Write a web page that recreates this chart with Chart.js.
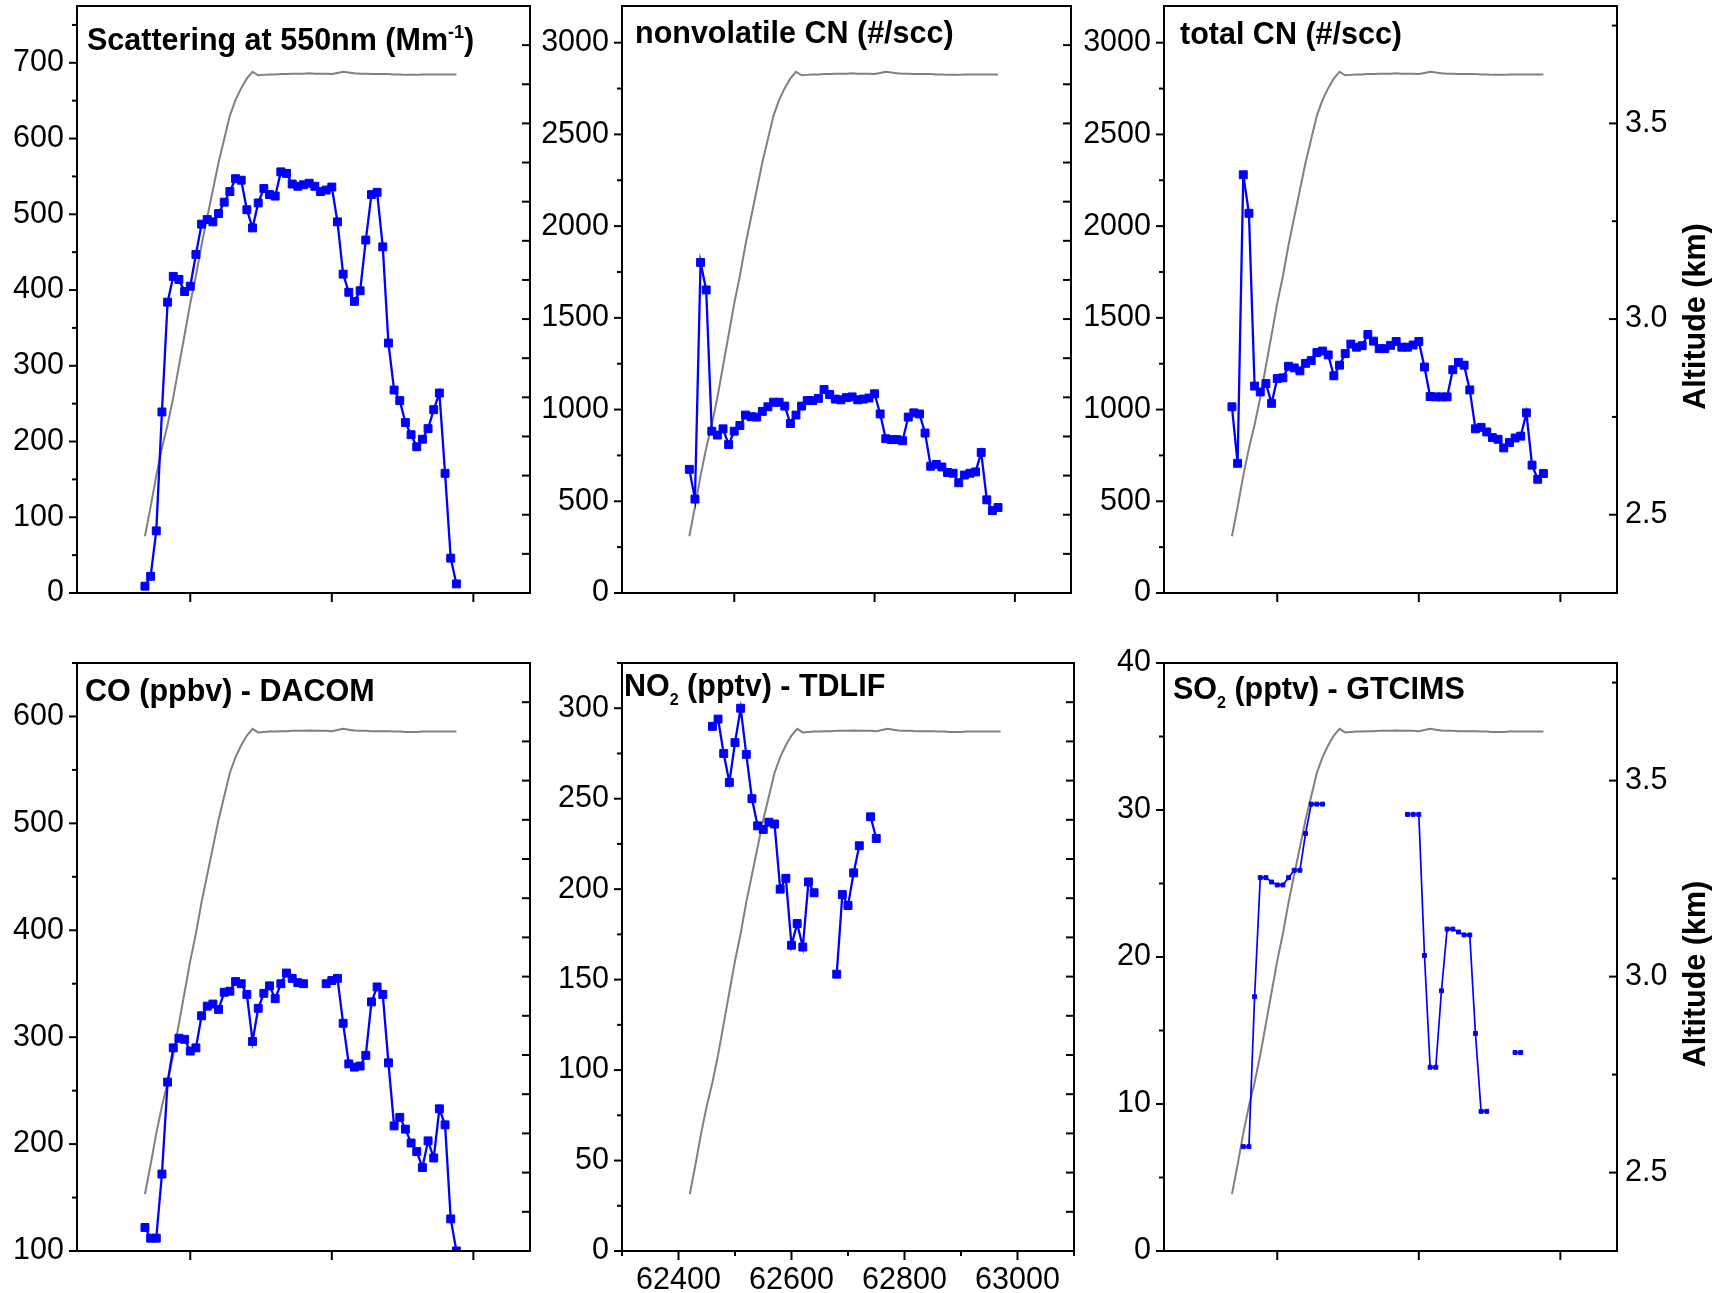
<!DOCTYPE html>
<html>
<head>
<meta charset="utf-8">
<script src="https://cdn.jsdelivr.net/npm/chart.js@4.4.1/dist/chart.umd.min.js"></script>
<style>
  body { margin: 0; background: #fff; width: 1727px; height: 1293px; overflow: hidden; position: relative; }
  canvas { position: absolute; }
</style>
</head>
<body>
<script>
// sample times (s), shared by all instruments
const sampleTime = [62420, 62430, 62440, 62450, 62460, 62470, 62480, 62490, 62500, 62510,
  62520, 62530, 62540, 62550, 62560, 62570, 62580, 62590, 62600, 62610,
  62620, 62630, 62640, 62650, 62660, 62670, 62680, 62690, 62700, 62710,
  62720, 62730, 62740, 62750, 62760, 62770, 62780, 62790, 62800, 62810,
  62820, 62830, 62840, 62850, 62860, 62870, 62880, 62890, 62900, 62910,
  62920, 62930, 62940, 62950, 62960, 62970];

// aircraft altitude (km), grey line in every panel
const altitudeKm = [2.445, 2.52, 2.60, 2.67, 2.73, 2.80, 2.88, 2.96, 3.04, 3.11,
  3.19, 3.26, 3.33, 3.40, 3.46, 3.52, 3.56, 3.59, 3.615, 3.632,
  3.623, 3.624, 3.625, 3.625, 3.626, 3.626, 3.627, 3.627, 3.627, 3.628,
  3.627, 3.627, 3.627, 3.626, 3.629, 3.632, 3.630, 3.628, 3.627, 3.627,
  3.626, 3.626, 3.626, 3.626, 3.625, 3.625, 3.624, 3.624, 3.624, 3.625,
  3.625, 3.625, 3.625, 3.625, 3.625, 3.625];

const scattering550 = [9, 22, 82, 239, 384, 418, 414, 398, 405, 447,
  487, 493, 490, 501, 516, 530, 547, 545, 506, 482,
  515, 534, 526, 524, 556, 554, 540, 537, 539, 541,
  537, 530, 532, 536, 490, 421, 397, 385, 399, 466,
  526, 529, 457, 330, 268, 254, 225, 209, 193, 203,
  217, 242, 264, 158, 46, 12];

const cnNonvolatile = [674, 512, 1802, 1652, 882, 861, 895, 809, 882, 913,
  970, 961, 959, 990, 1015, 1040, 1040, 1019, 924, 970,
  1019, 1049, 1049, 1061, 1109, 1082, 1057, 1053, 1065, 1069,
  1053, 1057, 1063, 1086, 976, 841, 836, 836, 830, 959,
  982, 976, 872, 691, 701, 687, 657, 653, 601, 643,
  653, 660, 766, 508, 449, 466];

const cnTotal = [1015, 707, 2280, 2070, 1128, 1096, 1142, 1034, 1169, 1173,
  1236, 1227, 1211, 1252, 1267, 1311, 1319, 1298, 1184, 1242,
  1305, 1357, 1340, 1348, 1409, 1373, 1332, 1332, 1350, 1371,
  1340, 1340, 1352, 1371, 1232, 1071, 1069, 1069, 1069, 1217,
  1257, 1242, 1107, 895, 903, 878, 847, 838, 791, 820,
  845, 855, 982, 697, 620, 651];

const coDacom = [122, 112, 112, 172, 258, 290, 299, 298, 287, 290,
  320, 329, 331, 326, 342, 343, 352, 350, 340, 296,
  327, 341, 348, 336, 350, 360, 355, 351, 350, null,
  null, null, 350, 353, 355, 313, 275, 272, 273, 283,
  333, 347, 340, 276, 217, 225, 214, 201, 193, 178,
  203, 187, 233, 218, 130, 100];

const no2Tdlif = [null, null, null, null, 290, 294, 275, 259, 281, 300,
  274.5, 250, 235, 233, 237, 236, 200, 206, 169, 181,
  168, 204, 198, null, null, null, 153, 197, 191, 209,
  224, null, 240, 228, null, null, null, null, null, null,
  null, null, null, null, null, null, null, null, null, null,
  null, null, null, null, null, null];

const so2Gtcims = [null, null, 7.1, 7.1, 17.3, 25.4, 25.4, 25.1, 24.9, 24.9,
  25.4, 25.9, 25.9, 28.4, 30.4, 30.4, 30.4, null, null, null,
  null, null, null, null, null, null, null, null, null, null,
  null, 29.7, 29.7, 29.7, 20.1, 12.5, 12.5, 17.7, 21.9, 21.9,
  21.7, 21.5, 21.5, 14.8, 9.5, 9.5, null, null, null, null,
  13.5, 13.5, null, null, null, null];

// tick positions
const timeTicksLabelled = [62400, 62600, 62800, 63000];
const timeTicksMinor = [62300, 62500, 62700, 62900, 63100];
const timeTicksPlain = [62500, 62750, 63000];
const altTicks = [2.5, 3.0, 3.5];
const altTicksMinor = [2.75, 3.25, 3.75];
const altTicksMirror = [2.4, 2.5, 2.6, 2.7, 2.8, 2.9, 3.0, 3.1, 3.2, 3.3, 3.4, 3.5, 3.6, 3.7];

const FONT = "'Liberation Sans', Arial, Helvetica, sans-serif";
Chart.defaults.font.family = FONT;
Chart.defaults.color = '#000';

const LW = 100, BH = 60, TP = 24, RP = 20, RAX = 110;

const panels = [
  { box: [77, 6, 530, 593], values: scattering550, yMin: 0, yMax: 775, major: 100, minor: 50,
    title: [['Scattering at 550nm (Mm'], ['-1', 'sup'], [')']], titleAt: [10, 44] },
  { box: [622, 6, 1071, 593], values: cnNonvolatile, yMin: 0, yMax: 3200, major: 500, minor: 250,
    title: [['nonvolatile CN (#/scc)']], titleAt: [13, 37] },
  { box: [1164, 6, 1617, 593], values: cnTotal, yMin: 0, yMax: 3200, major: 500, minor: 250,
    title: [['total CN (#/scc)']], titleAt: [16, 38], rightAxis: true },
  { box: [77, 663, 530, 1251], values: coDacom, yMin: 100, yMax: 650, major: 100, minor: 50,
    title: [['CO (ppbv) - DACOM']], titleAt: [8, 38] },
  { box: [622, 663, 1074, 1251], values: no2Tdlif, yMin: 0, yMax: 325, major: 50, minor: 25,
    title: [['NO'], ['2', 'sub'], [' (pptv) - TDLIF']], titleAt: [2, 33], timeLabels: true },
  { box: [1164, 663, 1617, 1251], values: so2Gtcims, yMin: 0, yMax: 40, major: 10, minor: 5,
    title: [['SO'], ['2', 'sub'], [' (pptv) - GTCIMS']], titleAt: [9, 36], rightAxis: true, small: true }
];

function drawRich(ctx, x, y, parts) {
  ctx.textAlign = 'left';
  ctx.textBaseline = 'alphabetic';
  for (const [txt, kind] of parts) {
    let dy = 0;
    if (kind === 'sup') { ctx.font = 'bold 18px ' + FONT; dy = -12; }
    else if (kind === 'sub') { ctx.font = 'bold 16px ' + FONT; dy = 9; }
    else ctx.font = 'bold 30.5px ' + FONT;
    ctx.fillText(txt, x, y + dy);
    x += ctx.measureText(txt).width;
  }
}

const axisDecor = {
  id: 'axisDecor',
  afterDraw(chart, args, o) {
    const { ctx, chartArea: a, scales } = chart;
    ctx.save();
    ctx.strokeStyle = '#000';
    ctx.fillStyle = '#000';
    ctx.lineWidth = 2;
    ctx.strokeRect(a.left, a.top, a.right - a.left, a.bottom - a.top);
    const tick = (x1, y1, x2, y2) => { ctx.beginPath(); ctx.moveTo(x1, y1); ctx.lineTo(x2, y2); ctx.stroke(); };

    // left axis, outward
    for (let v = o.yMin; v <= o.yMax + 1e-9; v += o.minor) {
      const isMajor = Math.abs(v / o.major - Math.round(v / o.major)) < 1e-6;
      const y = scales.y.getPixelForValue(v);
      tick(a.left - (isMajor ? 8 : 5), y, a.left, y);
    }
    // right side: altitude ticks, inward
    if (o.rightAxis) {
      altTicks.forEach(v => { const y = scales.alt.getPixelForValue(v); tick(a.right - 8, y, a.right, y); });
      altTicksMinor.forEach(v => { const y = scales.alt.getPixelForValue(v); tick(a.right - 5, y, a.right, y); });
    } else {
      altTicksMirror.forEach(v => { const y = scales.alt.getPixelForValue(v); tick(a.right - 8, y, a.right, y); });
    }
    // bottom axis, outward
    const majors = o.timeLabels ? timeTicksLabelled : timeTicksPlain;
    majors.forEach(v => { const x = scales.x.getPixelForValue(v); tick(x, a.bottom, x, a.bottom + 9); });
    if (o.timeLabels) {
      timeTicksMinor.forEach(v => { const x = scales.x.getPixelForValue(v); tick(x, a.bottom, x, a.bottom + 5); });
    }

    // panel title inside the plot
    drawRich(ctx, a.left + o.titleAt[0], a.top + o.titleAt[1], o.title);

    // altitude axis title
    if (o.rightAxis) {
      ctx.translate(a.right + 80, (a.top + a.bottom) / 2 + 17);
      ctx.rotate(-Math.PI / 2);
      ctx.font = 'bold 30.5px ' + FONT;
      ctx.textAlign = 'center';
      ctx.textBaseline = 'middle';
      ctx.fillText('Altitude (km)', 0, 0);
    }
    ctx.restore();
  }
};

panels.forEach((p, i) => {
  const [L, T, R, B] = p.box;
  const rightW = p.rightAxis ? RAX : 0;
  const padR = p.rightAxis ? 0 : RP;
  const canvas = document.createElement('canvas');
  canvas.width = LW + (R - L) + rightW + padR;
  canvas.height = TP + (B - T) + BH;
  canvas.style.left = (L - LW) + 'px';
  canvas.style.top = (T - TP) + 'px';
  document.body.appendChild(canvas);

  const majorsY = [];
  for (let v = Math.ceil(p.yMin / p.major) * p.major; v <= p.yMax; v += p.major) majorsY.push(v);

  new Chart(canvas.getContext('2d'), {
    type: 'line',
    data: {
      datasets: [
        {
          data: sampleTime.map((t, k) => ({ x: t, y: p.values[k] })),
          yAxisID: 'y',
          borderColor: '#0000ff',
          backgroundColor: '#0000ff',
          borderWidth: p.small ? 1.7 : 2.3,
          pointStyle: 'rect',
          pointRadius: p.small ? 2.8 : 5.6,
          pointBorderWidth: 1,
          pointBackgroundColor: '#0000ff',
          pointBorderColor: '#0000ff',
          tension: 0,
          spanGaps: false
        },
        {
          data: sampleTime.map((t, k) => ({ x: t, y: altitudeKm[k] })),
          yAxisID: 'alt',
          borderColor: '#808080',
          borderWidth: 2,
          pointRadius: 0,
          tension: 0
        }
      ]
    },
    options: {
      responsive: false,
      animation: false,
      events: [],
      layout: { padding: { top: TP, left: 0, right: padR, bottom: 0 } },
      plugins: {
        legend: { display: false },
        title: { display: false },
        tooltip: { enabled: false },
        axisDecor: p
      },
      scales: {
        x: {
          type: 'linear',
          position: 'bottom',
          min: 62300,
          max: 63100,
          grid: { display: false, drawTicks: false },
          border: { display: false },
          afterBuildTicks: s => { s.ticks = (p.timeLabels ? timeTicksLabelled : timeTicksPlain).map(v => ({ value: v })); },
          afterFit: s => { s.height = BH; s.paddingLeft = 0; s.paddingRight = 0; },
          ticks: {
            display: !!p.timeLabels,
            autoSkip: false,
            maxRotation: 0,
            padding: 11,
            font: { size: 30.5 },
            callback: v => String(v)
          }
        },
        y: {
          type: 'linear',
          position: 'left',
          min: p.yMin,
          max: p.yMax,
          grid: { display: false, drawTicks: false },
          border: { display: false },
          afterBuildTicks: s => { s.ticks = majorsY.map(v => ({ value: v })); },
          afterFit: s => { s.width = LW; s.paddingTop = 0; s.paddingBottom = 0; },
          ticks: { padding: 13, font: { size: 30.5 }, callback: v => String(v) }
        },
        alt: {
          type: 'linear',
          position: 'right',
          display: !!p.rightAxis,
          min: 2.3,
          max: 3.8,
          grid: { display: false, drawTicks: false },
          border: { display: false },
          afterBuildTicks: s => { s.ticks = altTicks.map(v => ({ value: v })); },
          afterFit: s => { s.width = rightW; s.paddingTop = 0; s.paddingBottom = 0; },
          ticks: { padding: 8, font: { size: 30.5 }, callback: v => v.toFixed(1) }
        }
      }
    },
    plugins: [axisDecor]
  });
});
</script>
</body>
</html>
